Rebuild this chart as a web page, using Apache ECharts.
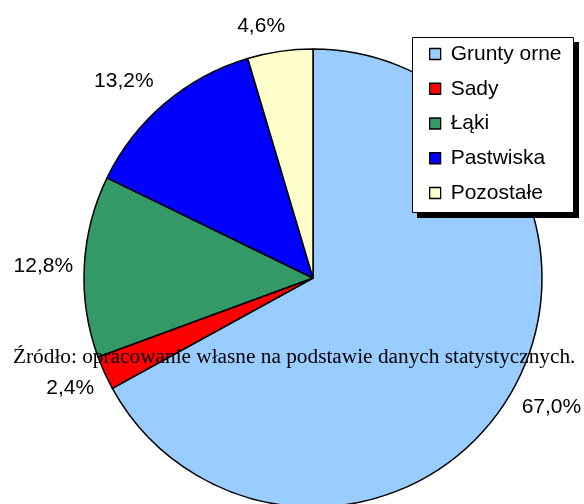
<!DOCTYPE html>
<html>
<head>
<meta charset="utf-8">
<script src="https://cdn.jsdelivr.net/npm/echarts@6/dist/echarts.min.js"></script>
<style>
html,body{margin:0;padding:0;background:#fff;}
#chart{width:584px;height:504px;}
</style>
</head>
<body>
<div id="chart"></div>
<script>
const categories = ['Grunty orne', 'Sady', 'Łąki', 'Pastwiska', 'Pozostałe'];
const shares = [67.0, 2.4, 12.8, 13.2, 4.6];
const sourceNote = 'Źródło: opracowanie własne na podstawie danych statystycznych.';

const palette = ['#99CCFF', '#FF0000', '#339966', '#0000FF', '#FFFFCC'];
// small nudges of label placement (pixels) to mimic original label layout
const labelNudge = [[6, -8], [3, -1.5], [0, 2], [-14.5, 9.5], [-13, 15.5]];

const chart = echarts.init(document.getElementById('chart'), null, {renderer: 'canvas'});
const pieData = categories.map((n, i) => ({name: n, value: shares[i], itemStyle: {color: palette[i]}}));
const labelData = categories.map((n, i) => ({name: n, value: shares[i]}));
const fmt = p => p.value.toFixed(1).replace('.', ',') + '%';

chart.setOption({
  animation: false,
  backgroundColor: '#ffffff',
  legend: {
    orient: 'vertical',
    left: 429,
    top: 43.5,
    padding: 0,
    data: categories,
    icon: 'rect',
    itemWidth: 11,
    itemHeight: 11,
    itemGap: 13.75,
    selectedMode: false,
    z: 6,
    itemStyle: {borderColor: '#000', borderWidth: 1.3},
    textStyle: {fontFamily: 'Liberation Sans', fontSize: 21, lineHeight: 21, color: '#000', padding: [0, 0, 0, 5]}
  },
  graphic: [
    {type: 'rect', z: 4, shape: {x: 417, y: 42, width: 162, height: 176}, style: {fill: '#000'}},
    {type: 'rect', z: 5, shape: {x: 412.5, y: 37.5, width: 161, height: 175}, style: {fill: '#fff', stroke: '#000', lineWidth: 1}},
    {type: 'text', z: 20, left: 13, top: 347, style: {text: sourceNote, font: '21.3px "Liberation Serif"', fill: '#000'}}
  ],
  series: [
    {
      type: 'pie',
      center: [313, 278],
      radius: [0, 229],
      startAngle: 90,
      clockwise: true,
      silent: true,
      z: 2,
      label: {show: false},
      labelLine: {show: false},
      itemStyle: {borderColor: '#000', borderWidth: 1.5},
      emphasis: {disabled: true},
      data: pieData
    },
    {
      type: 'pie',
      center: [313, 278],
      radius: [229, 305],
      startAngle: 90,
      clockwise: true,
      silent: true,
      z: 3,
      avoidLabelOverlap: false,
      minShowLabelAngle: 0,
      itemStyle: {color: 'rgba(0,0,0,0)', borderWidth: 0},
      label: {show: true, position: 'inside', formatter: fmt, fontFamily: 'Liberation Sans', fontSize: 21, color: '#000'},
      labelLine: {show: false},
      labelLayout: p => ({dx: labelNudge[p.dataIndex][0], dy: labelNudge[p.dataIndex][1]}),
      emphasis: {disabled: true},
      data: labelData
    }
  ]
});
</script>
</body>
</html>
